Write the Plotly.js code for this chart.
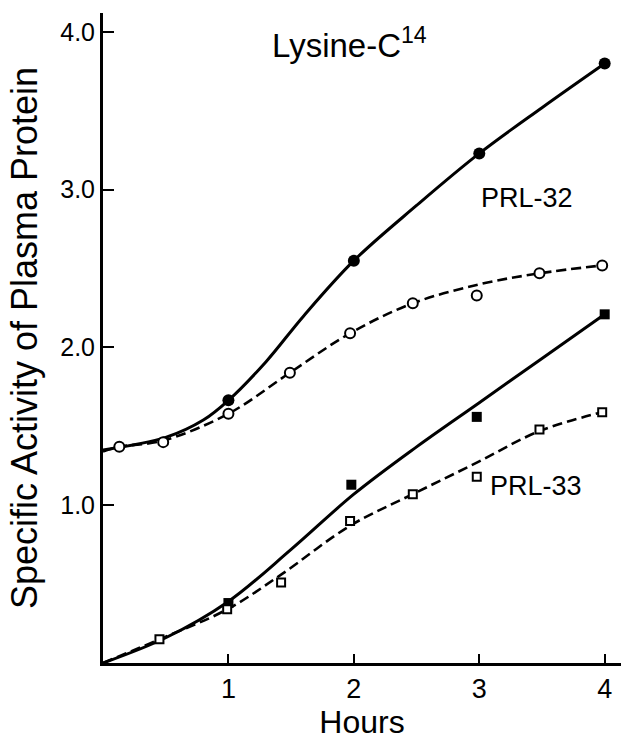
<!DOCTYPE html>
<html>
<head>
<meta charset="utf-8">
<script src="https://cdn.plot.ly/plotly-3.0.1.min.js"></script>
<style>html,body{margin:0;padding:0;background:#fff;}#chart{width:623px;height:741px;}</style>
</head>
<body>
<div id="chart"></div>
<script>
// Measured data points
var prl32FilledX = [1, 2, 3, 4];
var prl32FilledY = [1.665, 2.55, 3.23, 3.80];
var prl32OpenX = [0.13, 0.48, 1, 1.49, 1.97, 2.47, 2.98, 3.48, 3.98];
var prl32OpenY = [1.37, 1.40, 1.58, 1.84, 2.09, 2.28, 2.33, 2.47, 2.52];
var prl33FilledX = [1, 1.98, 2.98, 4];
var prl33FilledY = [0.38, 1.13, 1.56, 2.21];
var prl33OpenX = [0.45, 0.99, 1.42, 1.97, 2.47, 2.98, 3.48, 3.98];
var prl33OpenY = [0.15, 0.34, 0.51, 0.90, 1.07, 1.18, 1.48, 1.59];

// Hand-drawn curves
var curve32SolidX = [0, 0.5, 0.8, 1, 1.3, 1.6, 2, 2.5, 3, 3.5, 4];
var curve32SolidY = [1.35, 1.43, 1.54, 1.665, 1.91, 2.2, 2.55, 2.9, 3.23, 3.52, 3.80];
var curve32DashX = [0, 0.13, 0.48, 1, 1.49, 1.97, 2.47, 3, 3.48, 3.98];
var curve32DashY = [1.34, 1.37, 1.41, 1.58, 1.84, 2.09, 2.28, 2.40, 2.47, 2.52];
var curve33SolidX = [0, 0.5, 1, 1.5, 2, 2.5, 3, 3.5, 4];
var curve33SolidY = [0, 0.16, 0.39, 0.72, 1.07, 1.37, 1.65, 1.93, 2.21];
var curve33DashX = [0, 0.45, 0.99, 1.42, 1.97, 2.47, 2.98, 3.48, 3.98];
var curve33DashY = [0, 0.15, 0.34, 0.56, 0.87, 1.07, 1.27, 1.47, 1.59];

var xTicks = [1, 2, 3, 4];
var xTickText = ["1", "2", "3", "4"];
var yTicks = [1, 2, 3, 4];
var yTickText = ["1.0", "2.0", "3.0", "4.0"];

var FONT = "Liberation Sans, Arial, sans-serif";

var traces = [
  {x: curve32SolidX, y: curve32SolidY, mode: "lines", line: {color: "#000", width: 3, shape: "spline", smoothing: 1}, hoverinfo: "skip"},
  {x: curve32DashX, y: curve32DashY, mode: "lines", line: {color: "#000", width: 2.6, dash: "10px,5px", shape: "spline", smoothing: 1}, hoverinfo: "skip"},
  {x: curve33SolidX, y: curve33SolidY, mode: "lines", line: {color: "#000", width: 3, shape: "spline", smoothing: 1}, hoverinfo: "skip"},
  {x: curve33DashX, y: curve33DashY, mode: "lines", line: {color: "#000", width: 2.6, dash: "10px,5px", shape: "spline", smoothing: 1}, hoverinfo: "skip"},
  {x: prl32FilledX, y: prl32FilledY, mode: "markers", marker: {symbol: "circle", size: 12, color: "#000"}},
  {x: prl32OpenX, y: prl32OpenY, mode: "markers", marker: {symbol: "circle", size: 10, color: "#fff", line: {width: 2, color: "#000"}}},
  {x: prl33FilledX, y: prl33FilledY, mode: "markers", marker: {symbol: "square", size: 10, color: "#000"}},
  {x: prl33OpenX, y: prl33OpenY, mode: "markers", marker: {symbol: "square", size: 8, color: "#fff", line: {width: 2, color: "#000"}}}
];

var layout = {
  width: 623, height: 741,
  margin: {l: 103, r: 2, t: 13, b: 78},
  paper_bgcolor: "#fff", plot_bgcolor: "#fff",
  showlegend: false,
  font: {family: FONT, color: "#000"},
  xaxis: {
    range: [0, 4.13], showgrid: false, zeroline: false,
    showline: true, linecolor: "#000", linewidth: 3,
    ticks: "inside", ticklen: 9, tickwidth: 2, tickcolor: "#000",
    tickvals: xTicks, ticktext: xTickText,
    tickfont: {family: FONT, size: 27, color: "#000"},
    title: {text: "Hours", font: {family: FONT, size: 32, color: "#000"}, standoff: 4}
  },
  yaxis: {
    range: [0, 4.12], showgrid: false, zeroline: false,
    showline: true, linecolor: "#000", linewidth: 3,
    ticks: "inside", ticklen: 11, tickwidth: 2, tickcolor: "#000",
    tickvals: yTicks, ticktext: yTickText,
    tickfont: {family: FONT, size: 25, color: "#000"},
    title: {text: "Specific Activity of Plasma Protein", font: {family: FONT, size: 36, color: "#000"}, standoff: 12}
  },
  annotations: [
    {x: 1.33, y: 3.93, xref: "x", yref: "y", text: "Lysine-C<sup>14</sup>", showarrow: false, xanchor: "left", yanchor: "middle", font: {family: FONT, size: 33, color: "#000"}},
    {x: 3.0, y: 2.95, xref: "x", yref: "y", text: "PRL-32", showarrow: false, xanchor: "left", yanchor: "middle", font: {family: FONT, size: 27, color: "#000"}},
    {x: 3.07, y: 1.12, xref: "x", yref: "y", text: "PRL-33", showarrow: false, xanchor: "left", yanchor: "middle", font: {family: FONT, size: 27, color: "#000"}}
  ]
};

Plotly.newPlot("chart", traces, layout, {displayModeBar: false, staticPlot: true});
</script>
</body>
</html>
